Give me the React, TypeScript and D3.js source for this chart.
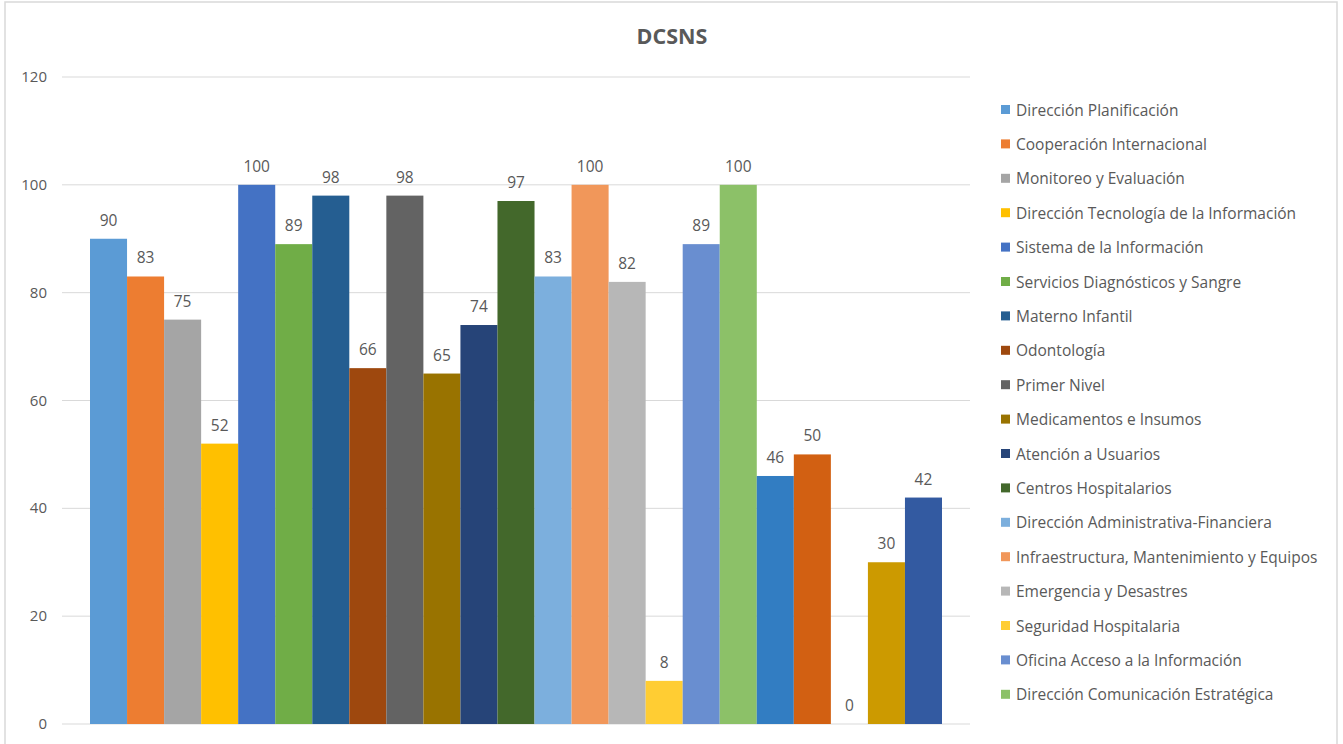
import React from "react";
import * as d3 from "d3";

// Chart title
const title = "DCSNS";

// Percent values per department, in drawing order
const values = [90, 83, 75, 52, 100, 89, 98, 66, 98, 65, 74, 97, 83, 100, 82, 8, 89, 100, 46, 50, 0, 30, 42];

// Department names shown in the legend
const legendNames = [
  "Dirección Planificación",
  "Cooperación Internacional",
  "Monitoreo y Evaluación",
  "Dirección Tecnología de la Información",
  "Sistema de la Información",
  "Servicios Diagnósticos y Sangre",
  "Materno Infantil",
  "Odontología",
  "Primer Nivel",
  "Medicamentos e Insumos",
  "Atención a Usuarios",
  "Centros Hospitalarios",
  "Dirección Administrativa-Financiera",
  "Infraestructura, Mantenimiento y Equipos",
  "Emergencia y Desastres",
  "Seguridad Hospitalaria",
  "Oficina Acceso a la Información",
  "Dirección Comunicación Estratégica",
];

// Series colours (office palette, accent + shades)
const colors = [
  "#5B9BD5", "#ED7D31", "#A5A5A5", "#FFC000", "#4472C4", "#70AD47",
  "#255E91", "#9E480E", "#636363", "#997300", "#264478", "#43682B",
  "#7CAFDD", "#F1975A", "#B7B7B7", "#FFCD33", "#698ED0", "#8CC168",
  "#327DC2", "#D26012", "#848484", "#CC9A00", "#335AA1",
];

// Y axis ticks
const yTicks = [0, 20, 40, 60, 80, 100, 120];

const W = 1343;
const H = 744;
const FONT = "'Open Sans', 'Noto Sans', sans-serif";
const TEXT = "#595959";
const GRID = "#D9D9D9";

export default function App() {
  const plotLeft = 62;
  const plotRight = 970;
  const y = d3.scaleLinear().domain([0, 120]).range([724, 77]);
  const x = d3
    .scaleBand<number>()
    .domain(values.map((_, i) => i))
    .range([90, 942])
    .paddingInner(0)
    .paddingOuter(0);

  const legendX = 1001;
  const legendY0 = 110;
  const legendStep = 34.4;

  return (
    <svg
      width={W}
      height={H}
      style={{ position: "fixed", left: 0, top: 0, background: "#fff" }}
      fontFamily={FONT}
    >
      <rect x={0} y={0} width={W} height={H} fill="#fff" />
      {/* chart area border */}
      <rect x={5} y={2} width={1332} height={H + 10} fill="none" stroke={GRID} strokeWidth={1.5} />

      <text x={672} y={44} textAnchor="middle" fontSize={21.5} fontWeight="bold" fill={TEXT}>
        {title}
      </text>

      {/* gridlines and y tick labels */}
      {yTicks.map((t) => (
        <g key={t}>
          <line x1={plotLeft} x2={plotRight} y1={y(t)} y2={y(t)} stroke={GRID} strokeWidth={1} />
          <text x={47} y={y(t) + 5} textAnchor="end" fontSize={15} fill={TEXT}>
            {t}
          </text>
        </g>
      ))}

      {/* bars */}
      {values.map((v, i) => (
        <rect
          key={i}
          x={x(i)!}
          y={y(v)}
          width={x.bandwidth()}
          height={y(0) - y(v)}
          fill={colors[i]}
        />
      ))}

      {/* data labels */}
      {values.map((v, i) => (
        <text
          key={"l" + i}
          x={x(i)! + x.bandwidth() / 2}
          y={y(v) - 13}
          textAnchor="middle"
          fontSize={15.5}
          fill={TEXT}
        >
          {v}
        </text>
      ))}

      {/* legend */}
      {legendNames.map((name, i) => {
        const cy = legendY0 + i * legendStep;
        return (
          <g key={"g" + i}>
            <rect x={legendX} y={cy - 5} width={9} height={9} fill={colors[i]} />
            <text x={1016} y={cy + 5.5} fontSize={15.5} fill={TEXT}>
              {name}
            </text>
          </g>
        );
      })}
    </svg>
  );
}
